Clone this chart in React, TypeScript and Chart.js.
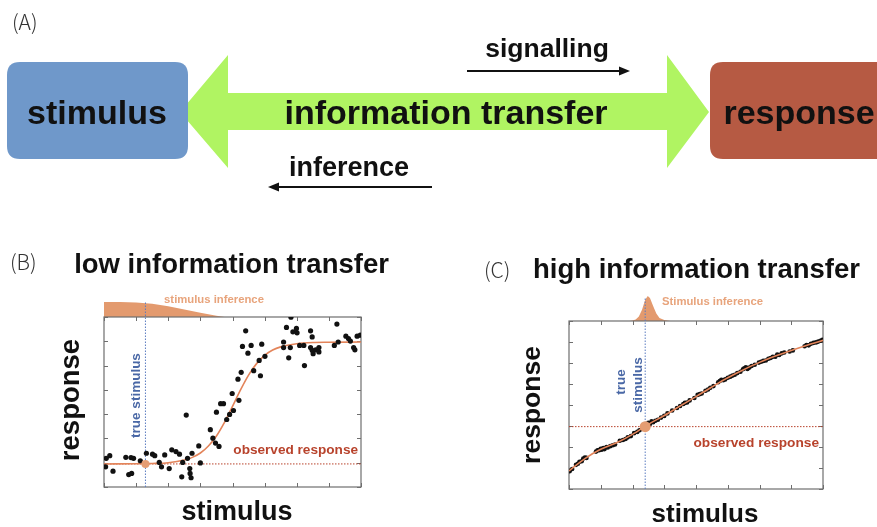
import React, { useEffect, useRef } from "react";
import { Chart, registerables } from "chart.js";

Chart.register(...registerables);

const SANS = '"Liberation Sans", Arial, Helvetica, sans-serif';
const THIN = '"Noto Sans CJK JP", "Noto Sans", sans-serif';

const CURVE = "#e3845a";
const INFERENCE = "#e39a6e";
const DOT = "#e59d72";
const BLUE = "#4a68a6";
const BLUE_LINE = "#5b7cc0";
const RED = "#b8432c";
const FRAME = "#6e6e6e";

// ---------- Panel B: low information transfer ----------
const bStimulus = [
  0.07, 0.18, 0.05, 0.28, 0.68, 0.84, 0.92, 0.77, 0.86, 1.13, 1.32, 1.51, 1.58, 1.72, 1.79, 1.89, 2.03, 2.11, 2.24,
  2.35, 2.42, 2.45, 2.56, 2.6, 2.67, 2.68, 2.71, 2.74, 2.95, 3.0, 3.31, 3.39, 3.47, 3.58, 3.5, 3.63, 3.72, 3.82,
  3.91, 4.03, 3.99, 4.17, 4.27, 4.2, 4.31, 4.41, 4.48, 4.58, 4.66, 4.83, 4.87, 4.91, 5.01, 5.59, 5.59, 5.68, 5.75,
  5.8, 5.82, 5.88, 5.99, 6.01, 6.09, 6.22, 6.24, 6.43, 6.48, 6.43, 6.48, 6.51, 6.59, 6.69, 6.69, 7.17, 7.25, 7.29,
  7.53, 7.61, 7.67, 7.77, 7.81, 7.88, 7.98,
];
const bResponse = [
  1.18, 1.29, 0.83, 0.65, 1.22, 1.21, 1.18, 0.51, 0.56, 1.08, 1.39, 1.35, 1.29, 1.01, 0.83, 1.32, 0.76, 1.53, 1.46,
  1.35, 0.42, 1.01, 2.96, 1.18, 0.76, 0.56, 0.38, 1.39, 1.69, 0.99, 2.36, 2.01, 1.81, 1.67, 3.08, 3.43, 3.43, 2.78,
  2.99, 3.15, 3.85, 4.44, 4.72, 3.57, 5.79, 6.43, 5.51, 5.83, 4.79, 5.21, 4.58, 5.88, 5.38, 5.97, 5.74, 6.57, 5.32,
  5.74, 6.99, 6.39, 6.53, 6.35, 5.83, 5.83, 5.0, 6.43, 6.18, 5.74, 5.63, 5.49, 5.65, 5.74, 5.56, 5.83, 6.71, 5.97,
  6.21, 6.11, 6.01, 5.74, 5.65, 6.21, 6.25,
];
const bFitX = [0, 1, 1.5, 2, 2.5, 2.75, 3, 3.25, 3.5, 3.75, 4, 4.25, 4.5, 4.75, 5, 5.25, 5.5, 6, 6.5, 7, 8];
const bFitY = [0.95, 0.96, 0.97, 1.0, 1.11, 1.22, 1.4, 1.69, 2.1, 2.66, 3.32, 4.0, 4.61, 5.08, 5.42, 5.64, 5.77, 5.9, 5.95, 5.96, 5.97];
const bTrueStimulus = 1.29;
const bObservedResponse = 0.95;
const bInferenceX = [0, 0.5, 1, 1.5, 2, 2.5, 3, 3.5, 3.75];
const bInferenceDensity = [1, 0.99, 0.96, 0.88, 0.72, 0.5, 0.28, 0.08, 0];
const bXTicks = [0, 1, 2, 3, 4, 5, 6, 7, 8];
const bYTicks = [0, 1, 2, 3, 4, 5, 6, 7];

// ---------- Panel C: high information transfer ----------
const cStimulus = [
  0.02, 0.1, 0.22, 0.28, 0.33, 0.4, 0.45, 0.5, 0.55, 0.85, 0.9, 0.95, 1.0, 1.03, 1.08, 1.12, 1.18, 1.22, 1.3, 1.38,
  1.45, 1.6, 1.7, 1.78, 1.85, 1.95, 2.05, 2.15, 2.22, 2.3, 2.36, 2.45, 2.5, 2.55, 2.6, 2.65, 2.72, 2.8, 2.9, 3.0,
  3.1, 3.25, 3.4, 3.5, 3.6, 3.65, 3.72, 3.8, 3.95, 4.05, 4.12, 4.18, 4.3, 4.38, 4.45, 4.55, 4.7, 4.75, 4.8, 4.86,
  4.92, 5.0, 5.08, 5.15, 5.22, 5.3, 5.4, 5.48, 5.52, 5.57, 5.62, 5.68, 5.75, 5.85, 5.98, 6.05, 6.12, 6.2, 6.28,
  6.35, 6.42, 6.5, 6.56, 6.62, 6.7, 6.78, 6.95, 7.05, 7.42, 7.48, 7.55, 7.62, 7.7, 7.78, 7.85, 7.92, 7.98,
];
const cResponse = [
  0.85, 0.95, 1.15, 1.2, 1.3, 1.32, 1.45, 1.5, 1.48, 1.78, 1.84, 1.85, 1.92, 1.87, 1.95, 1.9, 2.0, 1.98, 2.04, 2.08,
  2.12, 2.3, 2.33, 2.38, 2.46, 2.52, 2.66, 2.72, 2.8, 2.86, 2.93, 3.02, 3.15, 3.1, 3.22, 3.18, 3.25, 3.3, 3.4, 3.48,
  3.6, 3.74, 3.86, 3.95, 4.05, 4.1, 4.12, 4.22, 4.33, 4.48, 4.52, 4.55, 4.68, 4.74, 4.82, 4.9, 5.08, 5.14, 5.2, 5.18,
  5.22, 5.3, 5.35, 5.4, 5.44, 5.52, 5.58, 5.7, 5.75, 5.8, 5.72, 5.78, 5.86, 5.92, 6.02, 6.06, 6.1, 6.12, 6.2,
  6.24, 6.3, 6.3, 6.4, 6.38, 6.46, 6.5, 6.55, 6.6, 6.8, 6.86, 6.84, 6.92, 6.96, 6.98, 7.02, 7.06, 7.1,
];
const cFitX = [0, 0.5, 1, 1.5, 2, 2.5, 3, 3.5, 4, 4.5, 5, 5.5, 6, 6.5, 7, 7.5, 8];
const cFitY = [0.86, 1.45, 1.89, 2.2, 2.6, 3.08, 3.5, 3.95, 4.4, 4.86, 5.3, 5.68, 6.03, 6.33, 6.6, 6.85, 7.08];
const cTrueStimulus = 2.4;
const cObservedResponse = 2.97;
const cInferenceX = [1.9, 2.0, 2.1, 2.2, 2.3, 2.4, 2.48, 2.55, 2.65, 2.75, 2.85, 3.0, 3.2];
const cInferenceDensity = [0, 0.02, 0.06, 0.18, 0.45, 0.85, 1.0, 0.92, 0.6, 0.3, 0.12, 0.04, 0];
const cXTicks = [0, 1, 2, 3, 4, 5, 6, 7, 8];
const cYTicks = [0, 1, 2, 3, 4, 5, 6, 7, 8];

type Txt = {
  t: string;
  x: number;
  y: number;
  font: string;
  color: string;
  align?: CanvasTextAlign;
  base?: CanvasTextBaseline;
  rot?: boolean;
};

function drawText(ctx: CanvasRenderingContext2D, s: Txt) {
  ctx.save();
  ctx.font = s.font;
  ctx.fillStyle = s.color;
  ctx.textAlign = s.align || "center";
  ctx.textBaseline = s.base || "alphabetic";
  ctx.translate(s.x, s.y);
  if (s.rot) ctx.rotate(-Math.PI / 2);
  ctx.fillText(s.t, 0, 0);
  ctx.restore();
}

type Panel = {
  key: string;
  stim: number[];
  resp: number[];
  fitX: number[];
  fitY: number[];
  trueX: number;
  obsY: number;
  infX: number[];
  infD: number[];
  infScale: number;
  xTicks: number[];
  yTicks: number[];
  trueTop: number;
  padding: { left: number; right: number; top: number; bottom: number };
  ptR: number;
  dotR: number;
  curveOnTop: boolean;
  texts: Txt[];
};

function panelPlugin(p: Panel) {
  return {
    id: "panel" + p.key,
    beforeDatasetsDraw(chart: any) {
      const { ctx, chartArea: a, scales } = chart;
      const xs = scales.x;
      const ys = scales.y;
      const yMax = p.yTicks[p.yTicks.length - 1];
      ctx.save();
      // stimulus inference distribution above the plot
      ctx.fillStyle = INFERENCE;
      ctx.beginPath();
      ctx.moveTo(xs.getPixelForValue(p.infX[0]), a.top);
      p.infX.forEach((x, i) => {
        ctx.lineTo(xs.getPixelForValue(x), ys.getPixelForValue(yMax + p.infD[i] * p.infScale));
      });
      ctx.lineTo(xs.getPixelForValue(p.infX[p.infX.length - 1]), a.top);
      ctx.closePath();
      ctx.fill();
      // frame
      ctx.strokeStyle = FRAME;
      ctx.lineWidth = 1.2;
      ctx.strokeRect(a.left, a.top, a.right - a.left, a.bottom - a.top);
      // inward ticks
      ctx.lineWidth = 1;
      ctx.beginPath();
      p.xTicks.forEach((v) => {
        const px = Math.round(xs.getPixelForValue(v)) + 0.5;
        ctx.moveTo(px, a.bottom);
        ctx.lineTo(px, a.bottom - 4);
        ctx.moveTo(px, a.top);
        ctx.lineTo(px, a.top + 4);
      });
      p.yTicks.forEach((v) => {
        const py = Math.round(ys.getPixelForValue(v)) + 0.5;
        ctx.moveTo(a.left, py);
        ctx.lineTo(a.left + 4, py);
        ctx.moveTo(a.right, py);
        ctx.lineTo(a.right - 4, py);
      });
      ctx.stroke();
      ctx.restore();
    },
    afterDatasetsDraw(chart: any) {
      const { ctx } = chart;
      p.texts.forEach((s) => drawText(ctx, s));
    },
  };
}

function panelConfig(p: Panel): any {
  const xMax = p.xTicks[p.xTicks.length - 1];
  const yMax = p.yTicks[p.yTicks.length - 1];
  return {
    type: "scatter",
    data: {
      datasets: [
        {
          label: "estimate",
          data: [{ x: p.trueX, y: p.obsY }],
          pointRadius: p.dotR,
          backgroundColor: DOT,
          borderWidth: 0,
          order: 0,
        },
        {
          label: "samples",
          data: p.stim.map((x, i) => ({ x, y: p.resp[i] })),
          pointRadius: p.ptR,
          backgroundColor: "#111111",
          borderWidth: 0,
          order: p.curveOnTop ? 2 : 1,
        },
        {
          label: "fit",
          data: p.fitX.map((x, i) => ({ x, y: p.fitY[i] })),
          showLine: true,
          pointRadius: 0,
          borderColor: CURVE,
          borderWidth: 1.6,
          cubicInterpolationMode: "monotone",
          order: p.curveOnTop ? 1 : 2,
        },
        {
          label: "true stimulus",
          data: [
            { x: p.trueX, y: 0 },
            { x: p.trueX, y: p.trueTop },
          ],
          showLine: true,
          pointRadius: 0,
          borderColor: BLUE_LINE,
          borderWidth: 1,
          borderDash: [1.5, 1.5],
          clip: false,
          order: 3,
        },
        {
          label: "observed response",
          data: [
            { x: 0, y: p.obsY },
            { x: xMax, y: p.obsY },
          ],
          showLine: true,
          pointRadius: 0,
          borderColor: RED,
          borderWidth: 1,
          borderDash: [1.5, 1.5],
          order: 3,
        },
      ],
    },
    options: {
      responsive: false,
      animation: false,
      devicePixelRatio: 1,
      events: [],
      layout: { padding: p.padding },
      plugins: { legend: { display: false }, tooltip: { enabled: false }, title: { display: false } },
      scales: {
        x: { type: "linear", min: 0, max: xMax, display: false },
        y: { type: "linear", min: 0, max: yMax, display: false },
      },
    },
    plugins: [panelPlugin(p)],
  };
}

const panelB: Panel = {
  key: "B",
  stim: bStimulus,
  resp: bResponse,
  fitX: bFitX,
  fitY: bFitY,
  trueX: bTrueStimulus,
  obsY: bObservedResponse,
  infX: bInferenceX,
  infD: bInferenceDensity,
  infScale: 0.62,
  xTicks: bXTicks,
  yTicks: bYTicks,
  trueTop: 7.62,
  padding: { left: 104, right: 79, top: 77, bottom: 40 },
  ptR: 2.6,
  dotR: 4,
  curveOnTop: false,
  texts: [
    { t: "(B)", x: 10, y: 22, font: `300 21px ${THIN}`, color: "#333", align: "left", base: "middle" },
    { t: "low information transfer", x: 231.5, y: 33, font: `bold 27.5px ${SANS}`, color: "#111" },
    { t: "response", x: 79, y: 160, font: `bold 27.5px ${SANS}`, color: "#111", rot: true },
    { t: "stimulus", x: 237, y: 280, font: `bold 27px ${SANS}`, color: "#111" },
    { t: "true stimulus", x: 140, y: 155.5, font: `bold 13.5px ${SANS}`, color: BLUE, rot: true },
    { t: "observed response", x: 358, y: 214, font: `bold 13.6px ${SANS}`, color: RED, align: "right" },
    { t: "stimulus inference", x: 214, y: 63, font: `bold 11.3px ${SANS}`, color: "#e8a47c" },
  ],
};

const panelC: Panel = {
  key: "C",
  stim: cStimulus,
  resp: cResponse,
  fitX: cFitX,
  fitY: cFitY,
  trueX: cTrueStimulus,
  obsY: cObservedResponse,
  infX: cInferenceX,
  infD: cInferenceDensity,
  infScale: 1.19,
  xTicks: cXTicks,
  yTicks: cYTicks,
  trueTop: 9.13,
  padding: { left: 129, right: 54, top: 81, bottom: 38 },
  ptR: 2.3,
  dotR: 5.5,
  curveOnTop: true,
  texts: [
    { t: "(C)", x: 44, y: 30, font: `300 21px ${THIN}`, color: "#333", align: "left", base: "middle" },
    { t: "high information transfer", x: 256.5, y: 38, font: `bold 27.5px ${SANS}`, color: "#111" },
    { t: "response", x: 100, y: 165, font: `bold 26.5px ${SANS}`, color: "#111", rot: true },
    { t: "stimulus", x: 265, y: 282, font: `bold 26px ${SANS}`, color: "#111" },
    { t: "true", x: 184.5, y: 142, font: `bold 13.5px ${SANS}`, color: BLUE, rot: true },
    { t: "stimulus", x: 202, y: 145, font: `bold 13.5px ${SANS}`, color: BLUE, rot: true },
    { t: "observed response", x: 379, y: 207, font: `bold 13.7px ${SANS}`, color: RED, align: "right" },
    { t: "Stimulus inference", x: 272.5, y: 65, font: `bold 11.3px ${SANS}`, color: "#e8a47c" },
  ],
};

// ---------- Panel A: diagram ----------
const aBoxLabels = ["stimulus", "information transfer", "response"];
const aFlowLabels = ["signalling", "inference"];

function roundRect(ctx: CanvasRenderingContext2D, x: number, y: number, w: number, h: number, r: number) {
  ctx.beginPath();
  ctx.moveTo(x + r, y);
  ctx.lineTo(x + w - r, y);
  ctx.quadraticCurveTo(x + w, y, x + w, y + r);
  ctx.lineTo(x + w, y + h - r);
  ctx.quadraticCurveTo(x + w, y + h, x + w - r, y + h);
  ctx.lineTo(x + r, y + h);
  ctx.quadraticCurveTo(x, y + h, x, y + h - r);
  ctx.lineTo(x, y + r);
  ctx.quadraticCurveTo(x, y, x + r, y);
  ctx.closePath();
}

function arrowLine(ctx: CanvasRenderingContext2D, x1: number, x2: number, y: number) {
  const dir = Math.sign(x2 - x1);
  ctx.save();
  ctx.strokeStyle = "#111";
  ctx.fillStyle = "#111";
  ctx.lineWidth = 2;
  ctx.beginPath();
  ctx.moveTo(x1, y);
  ctx.lineTo(x2 - dir * 8, y);
  ctx.stroke();
  ctx.beginPath();
  ctx.moveTo(x2, y);
  ctx.lineTo(x2 - dir * 11, y - 4.5);
  ctx.lineTo(x2 - dir * 11, y + 4.5);
  ctx.closePath();
  ctx.fill();
  ctx.restore();
}

const diagramPlugin = {
  id: "diagramA",
  afterDraw(chart: any) {
    const ctx: CanvasRenderingContext2D = chart.ctx;
    ctx.save();
    // double arrow
    ctx.fillStyle = "#b0f462";
    ctx.beginPath();
    ctx.moveTo(180, 112);
    ctx.lineTo(228, 55);
    ctx.lineTo(228, 93);
    ctx.lineTo(667, 93);
    ctx.lineTo(667, 55);
    ctx.lineTo(709, 112);
    ctx.lineTo(667, 168);
    ctx.lineTo(667, 130);
    ctx.lineTo(228, 130);
    ctx.lineTo(228, 168);
    ctx.closePath();
    ctx.fill();
    // boxes
    ctx.fillStyle = "#6f98ca";
    roundRect(ctx, 7, 62, 181, 97, 13);
    ctx.fill();
    ctx.fillStyle = "#b65a43";
    roundRect(ctx, 710, 62, 190, 97, 13);
    ctx.fill();
    ctx.restore();

    drawText(ctx, { t: "(A)", x: 12, y: 22, font: `300 21px ${THIN}`, color: "#333", align: "left", base: "middle" });
    drawText(ctx, { t: aBoxLabels[0], x: 97, y: 124, font: `bold 34px ${SANS}`, color: "#111" });
    drawText(ctx, { t: aBoxLabels[1], x: 446, y: 124, font: `bold 34px ${SANS}`, color: "#111" });
    drawText(ctx, { t: aBoxLabels[2], x: 799, y: 124, font: `bold 34px ${SANS}`, color: "#111" });
    drawText(ctx, { t: aFlowLabels[0], x: 547, y: 57, font: `bold 26.5px ${SANS}`, color: "#111" });
    drawText(ctx, { t: aFlowLabels[1], x: 349, y: 176, font: `bold 27px ${SANS}`, color: "#111" });
    arrowLine(ctx, 467, 630, 71);
    arrowLine(ctx, 432, 268, 187);
  },
};

function diagramConfig(): any {
  return {
    type: "scatter",
    data: { datasets: [] },
    options: {
      responsive: false,
      animation: false,
      devicePixelRatio: 1,
      events: [],
      plugins: { legend: { display: false }, tooltip: { enabled: false } },
      scales: { x: { display: false }, y: { display: false } },
    },
    plugins: [diagramPlugin],
  };
}

function ChartCanvas(props: { left: number; top: number; width: number; height: number; build: () => any }) {
  const ref = useRef<HTMLCanvasElement>(null);
  useEffect(() => {
    const chart = new Chart(ref.current as HTMLCanvasElement, props.build());
    return () => chart.destroy();
  }, []);
  return (
    <canvas
      ref={ref}
      width={props.width}
      height={props.height}
      style={{ position: "absolute", left: props.left, top: props.top, width: props.width, height: props.height }}
    />
  );
}

export default function App() {
  return (
    <div style={{ position: "absolute", left: 0, top: 0, width: 877, height: 527, background: "#fff", overflow: "hidden" }}>
      <ChartCanvas left={0} top={0} width={877} height={215} build={diagramConfig} />
      <ChartCanvas left={0} top={240} width={440} height={287} build={() => panelConfig(panelB)} />
      <ChartCanvas left={440} top={240} width={437} height={287} build={() => panelConfig(panelC)} />
    </div>
  );
}
